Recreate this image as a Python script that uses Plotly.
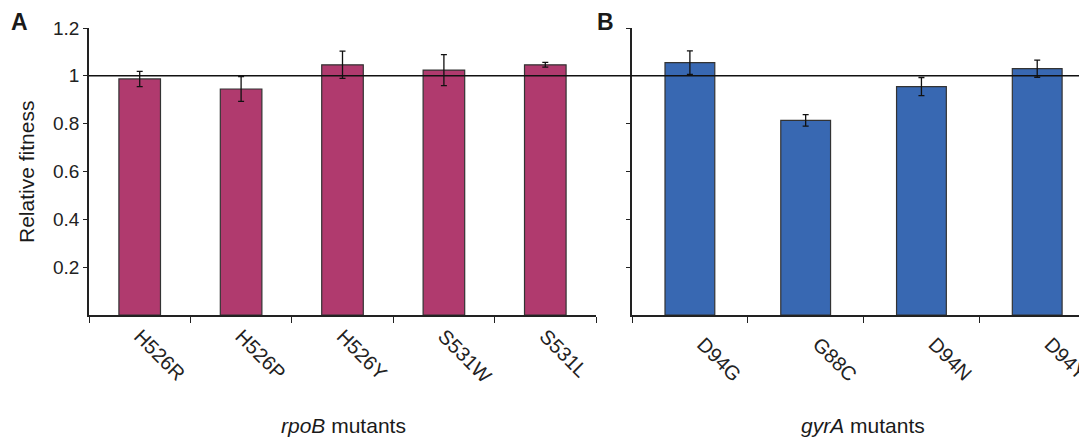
import plotly.graph_objects as go

# The page body adds an 8px margin, so the figure is sized to the window minus it
OFF = 8
W, H = 1087 - OFF, 438 - OFF

rpob_labels = ["H526R", "H526P", "H526Y", "S531W", "S531L"]
rpob_values = [0.987, 0.945, 1.046, 1.024, 1.046]
rpob_errors = [0.032, 0.052, 0.057, 0.065, 0.010]

gyra_labels = ["D94G", "G88C", "D94N", "D94Y"]
gyra_values = [1.055, 0.814, 0.955, 1.030]
gyra_errors = [0.049, 0.024, 0.038, 0.036]

y_tickvals = [0.2, 0.4, 0.6, 0.8, 1.0, 1.2]
y_ticktext = ["0.2", "0.4", "0.6", "0.8", "1", "1.2"]
reference_level = 1.0

FONT = "Liberation Sans, Arial, Helvetica, sans-serif"
MAGENTA = "#B03A6E"
BLUE = "#3868B2"

fig = go.Figure()
fig.add_trace(go.Bar(
    x=rpob_labels, y=rpob_values, xaxis="x", yaxis="y",
    marker=dict(color=MAGENTA, line=dict(color="#333333", width=1.2)),
    width=0.41,
    error_y=dict(type="data", array=rpob_errors, color="#111111", thickness=1.3, width=3),
    showlegend=False,
))
fig.add_trace(go.Bar(
    x=gyra_labels, y=gyra_values, xaxis="x2", yaxis="y2",
    marker=dict(color=BLUE, line=dict(color="#333333", width=1.2)),
    width=0.43,
    error_y=dict(type="data", array=gyra_errors, color="#111111", thickness=1.3, width=3),
    showlegend=False,
))

def px(p):          # window x pixel -> paper fraction
    return (p - OFF) / W

def ypix(p):        # window y pixel -> paper fraction (plot area 28..315)
    return (315 - p) / 287.0

xtickfont = dict(family=FONT, size=20, color="#222222")
ytickfont = dict(family=FONT, size=19, color="#222222")

xcommon = dict(
    type="category", showline=True, linecolor="#222222", linewidth=1.5,
    ticks="outside", ticklen=6, tickcolor="#222222", tickwidth=1,
    tickson="boundaries", tickangle=45, tickfont=xtickfont,
    showgrid=False, zeroline=False, fixedrange=True, automargin=False,
)
ycommon = dict(
    range=[0, 1.2], tickvals=y_tickvals, ticktext=y_ticktext,
    showline=True, linecolor="#222222", linewidth=1.5,
    ticks="outside", ticklen=4, tickcolor="#222222", tickwidth=1,
    showgrid=False, zeroline=False, tickfont=ytickfont, fixedrange=True,
    automargin=False,
)

fig.update_layout(
    width=W, height=H,
    margin=dict(l=0, r=0, t=28 - OFF, b=438 - 315, autoexpand=False),
    paper_bgcolor="white", plot_bgcolor="white",
    font=dict(family=FONT, color="#222222"),
    bargap=0.5,
    xaxis=dict(xcommon, domain=[px(89), px(596)], range=[-0.5, 4.5], anchor="y"),
    yaxis=dict(ycommon, anchor="x"),
    xaxis2=dict(xcommon, domain=[px(632), 1.0], range=[-0.5, 3.43], anchor="y2",
                ticklabelshift=13, ticklabelstandoff=8),
    yaxis2=dict(ycommon, anchor="x2", showticklabels=False),
)

fig.add_shape(type="line", xref="paper", yref="y", x0=px(89), x1=1.0,
              y0=reference_level, y1=reference_level,
              line=dict(color="#111111", width=1.5), layer="above")

annos = [
    dict(text="<b>A</b>", x=px(19), y=ypix(22), size=23),
    dict(text="<b>B</b>", x=px(605), y=ypix(22), size=23),
    dict(text="<i>rpoB</i> mutants", x=px(343), y=ypix(425), size=21),
    dict(text="<i>gyrA</i> mutants", x=px(863), y=ypix(425), size=21),
]
for a in annos:
    fig.add_annotation(text=a["text"], x=a["x"], y=a["y"], xref="paper", yref="paper",
                       showarrow=False, xanchor="center", yanchor="middle",
                       font=dict(family=FONT, size=a["size"], color="#1a1a1a"))
fig.add_annotation(text="Relative fitness", x=px(26), y=ypix(172), xref="paper", yref="paper",
                   showarrow=False, textangle=-90, xanchor="center", yanchor="middle",
                   font=dict(family=FONT, size=21, color="#1a1a1a"))

fig.write_html("out.html")
